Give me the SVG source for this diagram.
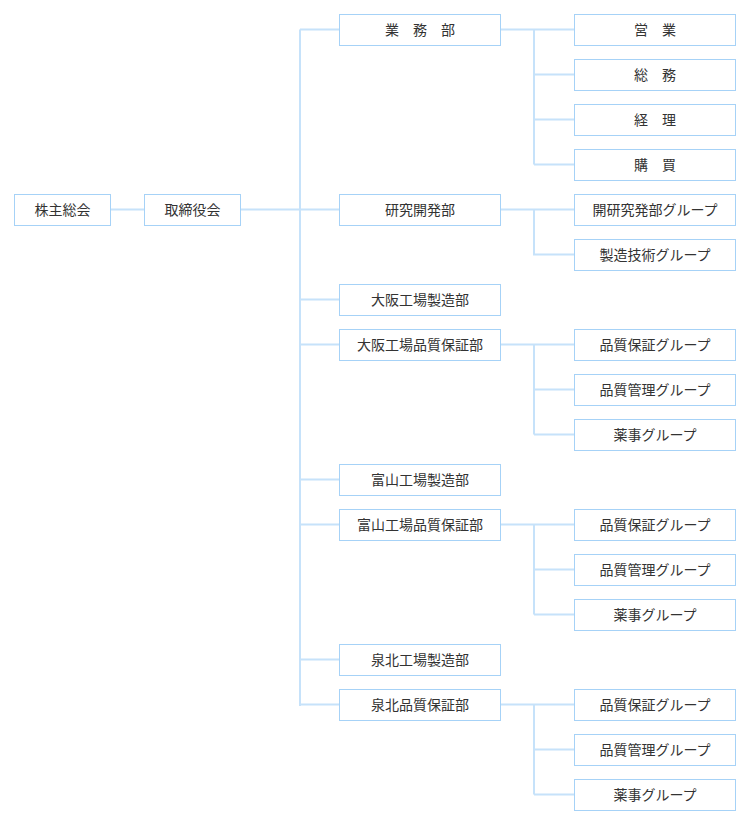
<svg xmlns="http://www.w3.org/2000/svg" width="748" height="830" viewBox="0 0 748 830">
<style>
.b{fill:#fff;stroke:#a6d2f7;stroke-width:1}
.t{font-family:"Noto Sans CJK JP","Noto Sans CJK SC",sans-serif;font-size:14px;fill:#333;text-anchor:middle;dominant-baseline:central}
.c{stroke:#c6e2fa;stroke-width:2;fill:none}
</style>
<g id="connectors" class="c">
<path d="M110 209.5H144M240 209.5H339"/>
<path d="M300 29.5V706"/>
<path d="M300 29.5H339M300 299.5H339M300 344.5H339M300 479.5H339M300 524.5H339M300 659.5H339M300 704.5H339"/>
<path d="M500 29.5H574M534 29.5V164.5M534 74.5H574M534 119.5H574M534 164.5H574"/>
<path d="M500 209.5H574M534 209.5V254.5H574"/>
<path d="M500 344.5H574M534 344.5V434.5M534 389.5H574M534 434.5H574"/>
<path d="M500 524.5H574M534 524.5V614.5M534 569.5H574M534 614.5H574"/>
<path d="M500 704.5H574M534 704.5V794.5M534 749.5H574M534 794.5H574"/>
</g>
<g id="n-kabunushi"><rect class="b" x="14.5" y="194.5" width="96" height="31"/><text class="t" x="62.5" y="208.5">株主総会</text></g>
<g id="n-torishimari"><rect class="b" x="144.5" y="194.5" width="96" height="31"/><text class="t" x="192.5" y="208.5">取締役会</text></g>
<g id="n-gyomu"><rect class="b" x="339.5" y="14.5" width="161" height="31"/><text class="t" x="420" y="28.5">業　務　部</text></g>
<g id="n-kenkyu"><rect class="b" x="339.5" y="194.5" width="161" height="31"/><text class="t" x="420" y="208.5">研究開発部</text></g>
<g id="n-osaka-seizo"><rect class="b" x="339.5" y="284.5" width="161" height="31"/><text class="t" x="420" y="298.5">大阪工場製造部</text></g>
<g id="n-osaka-hinshitsu"><rect class="b" x="339.5" y="329.5" width="161" height="31"/><text class="t" x="420" y="343.5">大阪工場品質保証部</text></g>
<g id="n-toyama-seizo"><rect class="b" x="339.5" y="464.5" width="161" height="31"/><text class="t" x="420" y="478.5">富山工場製造部</text></g>
<g id="n-toyama-hinshitsu"><rect class="b" x="339.5" y="509.5" width="161" height="31"/><text class="t" x="420" y="523.5">富山工場品質保証部</text></g>
<g id="n-senboku-seizo"><rect class="b" x="339.5" y="644.5" width="161" height="31"/><text class="t" x="420" y="658.5">泉北工場製造部</text></g>
<g id="n-senboku-hinshitsu"><rect class="b" x="339.5" y="689.5" width="161" height="31"/><text class="t" x="420" y="703.5">泉北品質保証部</text></g>
<g id="n-eigyo"><rect class="b" x="574.5" y="14.5" width="161" height="31"/><text class="t" x="655" y="28.5">営　業</text></g>
<g id="n-somu"><rect class="b" x="574.5" y="59.5" width="161" height="31"/><text class="t" x="655" y="73.5">総　務</text></g>
<g id="n-keiri"><rect class="b" x="574.5" y="104.5" width="161" height="31"/><text class="t" x="655" y="118.5">経　理</text></g>
<g id="n-kobai"><rect class="b" x="574.5" y="149.5" width="161" height="31"/><text class="t" x="655" y="163.5">購　買</text></g>
<g id="n-kaiken"><rect class="b" x="574.5" y="194.5" width="161" height="31"/><text class="t" x="655" y="208.5">開研究発部グループ</text></g>
<g id="n-seizo-gijutsu"><rect class="b" x="574.5" y="239.5" width="161" height="31"/><text class="t" x="655" y="253.5">製造技術グループ</text></g>
<g id="n-o-hosho"><rect class="b" x="574.5" y="329.5" width="161" height="31"/><text class="t" x="655" y="343.5">品質保証グループ</text></g>
<g id="n-o-kanri"><rect class="b" x="574.5" y="374.5" width="161" height="31"/><text class="t" x="655" y="388.5">品質管理グループ</text></g>
<g id="n-o-yakuji"><rect class="b" x="574.5" y="419.5" width="161" height="31"/><text class="t" x="655" y="433.5">薬事グループ</text></g>
<g id="n-t-hosho"><rect class="b" x="574.5" y="509.5" width="161" height="31"/><text class="t" x="655" y="523.5">品質保証グループ</text></g>
<g id="n-t-kanri"><rect class="b" x="574.5" y="554.5" width="161" height="31"/><text class="t" x="655" y="568.5">品質管理グループ</text></g>
<g id="n-t-yakuji"><rect class="b" x="574.5" y="599.5" width="161" height="31"/><text class="t" x="655" y="613.5">薬事グループ</text></g>
<g id="n-s-hosho"><rect class="b" x="574.5" y="689.5" width="161" height="31"/><text class="t" x="655" y="703.5">品質保証グループ</text></g>
<g id="n-s-kanri"><rect class="b" x="574.5" y="734.5" width="161" height="31"/><text class="t" x="655" y="748.5">品質管理グループ</text></g>
<g id="n-s-yakuji"><rect class="b" x="574.5" y="779.5" width="161" height="31"/><text class="t" x="655" y="793.5">薬事グループ</text></g>
</svg>
